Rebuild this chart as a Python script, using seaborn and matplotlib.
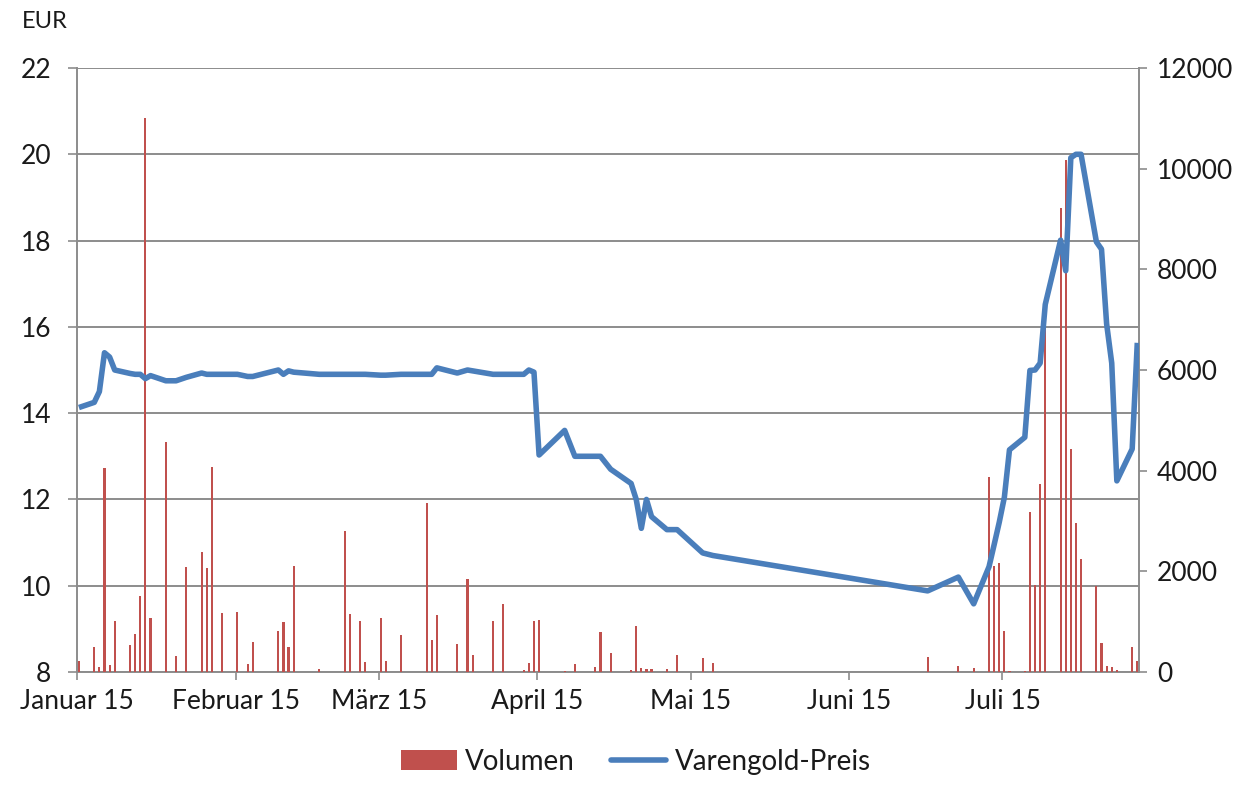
import matplotlib
matplotlib.use("Agg")
import matplotlib.pyplot as plt
import matplotlib.dates as mdates
from matplotlib.patches import Patch
from matplotlib.lines import Line2D
import seaborn as sns
import pandas as pd

sns.set_theme(style="white")
plt.rcParams["font.family"] = ["Lato", "DejaVu Sans"]

# ---------------- data ----------------
trade_dates = [
    "2015-01-01", "2015-01-04", "2015-01-05", "2015-01-06", "2015-01-07", "2015-01-08",
    "2015-01-11", "2015-01-12", "2015-01-13", "2015-01-14", "2015-01-15", "2015-01-18",
    "2015-01-20", "2015-01-22", "2015-01-25", "2015-01-26", "2015-01-27", "2015-01-29",
    "2015-02-01", "2015-02-03", "2015-02-04", "2015-02-09", "2015-02-10", "2015-02-11",
    "2015-02-12", "2015-02-17", "2015-02-22", "2015-02-23", "2015-02-25", "2015-02-26",
    "2015-03-01", "2015-03-02", "2015-03-05", "2015-03-10", "2015-03-11", "2015-03-12",
    "2015-03-16", "2015-03-18", "2015-03-19", "2015-03-23", "2015-03-25", "2015-03-29",
    "2015-03-30", "2015-03-31", "2015-04-01", "2015-04-06", "2015-04-08", "2015-04-12",
    "2015-04-13", "2015-04-15", "2015-04-19", "2015-04-20", "2015-04-21", "2015-04-22",
    "2015-04-23", "2015-04-26", "2015-04-28", "2015-05-03", "2015-05-05", "2015-06-16",
    "2015-06-22", "2015-06-25", "2015-06-28", "2015-06-29", "2015-06-30", "2015-07-01",
    "2015-07-02", "2015-07-05", "2015-07-06", "2015-07-07", "2015-07-08", "2015-07-09",
    "2015-07-12", "2015-07-13", "2015-07-14", "2015-07-15", "2015-07-16", "2015-07-19",
    "2015-07-20", "2015-07-21", "2015-07-22", "2015-07-23", "2015-07-26", "2015-07-27",
]

volumen = [
    210, 500, 100, 4050, 145, 1010,
    540, 750, 1510, 11000, 1070, 4570,
    320, 2080, 2390, 2070, 4080, 1170,
    1200, 160, 600, 820, 1000, 500,
    2110, 60, 2800, 1150, 1010, 205,
    1070, 225, 735, 3360, 635, 1130,
    555, 1850, 335, 1010, 1350, 40,
    180, 1020, 1040, 20, 160, 100,
    800, 380, 40, 915, 80, 60,
    60, 60, 340, 280, 180, 300,
    120, 80, 3870, 2100, 2170, 810,
    20, 20, 3180, 1730, 3740, 7400,
    9220, 10180, 4440, 2970, 2250, 1700,
    580, 120, 100, 40, 500, 220,
]

preis = [
    14.13, 14.25, 14.50, 15.40, 15.30, 15.00,
    14.92, 14.90, 14.90, 14.80, 14.87, 14.75,
    14.75, 14.83, 14.93, 14.90, 14.90, 14.90,
    14.90, 14.85, 14.85, 15.00, 14.90, 14.98,
    14.95, 14.90, 14.90, 14.90, 14.90, 14.90,
    14.88, 14.88, 14.90, 14.90, 14.90, 15.05,
    14.93, 15.00, 14.98, 14.90, 14.90, 14.90,
    15.00, 14.95, 13.03, 13.60, 13.00, 13.00,
    13.00, 12.70, 12.37, 12.00, 11.33, 12.00,
    11.60, 11.30, 11.30, 10.76, 10.70, 9.88,
    10.20, 9.58, 10.44, 10.95, 11.47, 12.05,
    13.15, 13.44, 14.99, 15.00, 15.16, 16.52,
    18.01, 17.30, 19.92, 20.00, 20.00, 17.97,
    17.80, 16.07, 15.16, 12.43, 13.17, 15.63,
]

month_labels = ["Januar 15", "Februar 15", "März 15", "April 15",
                "Mai 15", "Juni 15", "Juli 15"]
price_ticks = [8, 10, 12, 14, 16, 18, 20, 22]
volume_ticks = [0, 2000, 4000, 6000, 8000, 10000, 12000]
series_names = ["Volumen", "Varengold-Preis"]

# ---------------- style ----------------
RED = "#C0504D"
BLUE = "#4A7EBB"
GRID = "#8C8C8C"
TXT = "#1A1A1A"

df = pd.DataFrame({"datum": pd.to_datetime(trade_dates),
                   "volumen": volumen, "preis": preis})
df["pos"] = df["datum"] + pd.Timedelta(hours=9)

fig = plt.figure(figsize=(12.54, 7.87), dpi=100)
rect = [77 / 1254, 1 - 672 / 787, (1139 - 77) / 1254, (672 - 68) / 787]
ax = fig.add_axes(rect)
ax_v = ax.twinx()
ax_l = ax.twinx()
ax.set_zorder(1)
ax_v.set_zorder(2)
ax_l.set_zorder(3)
for a in (ax_v, ax_l):
    a.patch.set_visible(False)

# price axis (left) with grid
ax.set_ylim(price_ticks[0], price_ticks[-1])
ax.set_yticks(price_ticks)
ax.set_yticklabels([str(t) for t in price_ticks])
ax.yaxis.grid(True, color=GRID, linewidth=1.4)
ax.xaxis.grid(False)

# volume bars (right)
ax_v.bar(df["pos"], df["volumen"], width=0.42, color=RED, linewidth=0)
ax_v.set_ylim(volume_ticks[0], volume_ticks[-1])
ax_v.set_yticks(volume_ticks)
ax_v.set_yticklabels([str(t) for t in volume_ticks])

# price line
sns.lineplot(data=df, x="pos", y="preis", ax=ax_l, color=BLUE, linewidth=4.0,
             legend=False, estimator=None, sort=False)
ax_l.lines[0].set_solid_joinstyle("round")
ax_l.lines[0].set_solid_capstyle("butt")
ax_l.set_ylim(price_ticks[0], price_ticks[-1])
ax_l.set_ylabel("")
ax_l.set_yticks([])
for s in ax_l.spines.values():
    s.set_visible(False)

# x axis
xmin = pd.Timestamp("2015-01-01")
xmax = pd.Timestamp("2015-07-27 17:00")
ax.set_xlim(xmin, xmax)
ax.xaxis.set_major_locator(mdates.MonthLocator())
ticks = ax.get_xticks()
ax.set_xticks(ticks[:len(month_labels)])
ax.set_xticklabels(month_labels)
ax.set_xlabel("")
ax.set_ylabel("")
ax_v.set_ylabel("")
ax_l.set_xlabel("")

for a in (ax, ax_v, ax_l):
    for s in a.spines.values():
        s.set_visible(False)
ax.spines["left"].set_visible(True)
ax.spines["bottom"].set_visible(True)
ax_v.spines["right"].set_visible(True)
for s in (ax.spines["left"], ax.spines["bottom"], ax_v.spines["right"]):
    s.set_color(GRID)
    s.set_linewidth(1.4)

ax.tick_params(axis="y", left=True, right=False, length=6.5, width=1.2, color=GRID,
               labelsize=19, labelcolor=TXT, pad=12)
ax.tick_params(axis="x", bottom=True, top=False, length=6, width=1.2, color=GRID,
               labelsize=19, labelcolor=TXT, pad=6)
ax_v.tick_params(axis="y", right=True, left=False, length=6, width=1.2, color=GRID,
                 labelsize=19, labelcolor=TXT, pad=7)
ax_v.tick_params(axis="x", bottom=False, labelbottom=False)
ax_l.tick_params(axis="x", bottom=False, labelbottom=False)

fig.text(22 / 1254, 1 - 22 / 787, "EUR", fontsize=17, color=TXT,
         ha="left", va="center")

handles = [Patch(facecolor=RED, edgecolor="none"),
           Line2D([0], [0], color=BLUE, linewidth=4.0)]
fig.legend(handles, series_names, loc="center",
           bbox_to_anchor=(636 / 1254, 1 - 762 / 787), ncol=2, frameon=False,
           fontsize=20, handlelength=2.0, handleheight=0.75, handletextpad=0.3,
           columnspacing=1.3, labelcolor=TXT)

fig.savefig("out.png", dpi=100)
